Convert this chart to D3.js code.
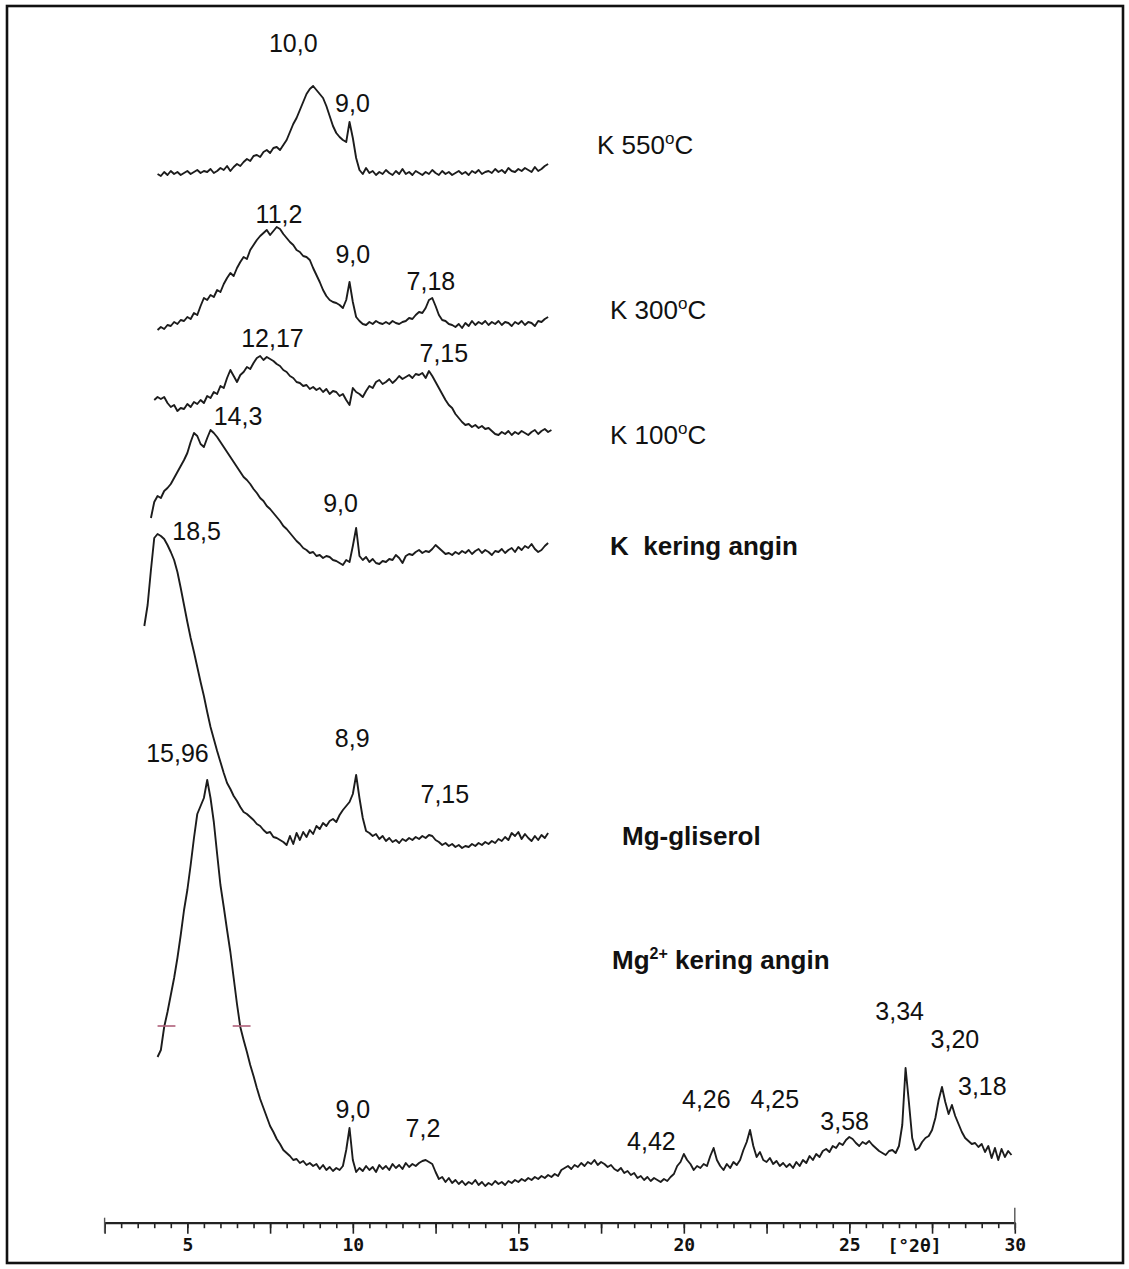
<!DOCTYPE html>
<html>
<head>
<meta charset="utf-8">
<script src="https://cdn.jsdelivr.net/npm/d3@7"></script>
<style>
  html, body { margin: 0; padding: 0; background: #ffffff; }
  svg { display: block; }
</style>
</head>
<body>
<svg id="chart" width="1129" height="1269"></svg>
<script>
// X-ray diffractograms of the clay fraction, stacked by treatment.
// Each scan is sampled every 0.1 °2θ starting at its own start angle.
const STEP = 0.1;

const traceNames  = ["K 550", "K 300", "K 100", "K kering angin", "Mg-gliserol", "Mg2+ kering angin"];
const traceStart  = [4.1, 4.1, 4.0, 3.9, 3.7, 4.1];
const traceOffset = [1042, 892, 784, 654, 372, 32];

// K-saturated, heated 550 °C
const k550 = [
  6,4,8,5,9,6,8,5,7,
  9,6,8,10,7,9,8,11,7,9,
  12,10,14,9,13,16,14,18,21,19,
  24,25,23,28,30,27,32,33,30,35,
  40,48,56,62,70,78,86,91,94,90,
  86,82,74,64,54,47,43,40,38,58,
  42,22,10,6,12,7,9,5,8,6,
  10,7,5,9,6,11,6,8,5,9,
  7,5,8,6,10,7,5,9,6,8,
  5,7,9,6,8,5,9,7,10,6,
  8,9,7,11,8,10,7,12,9,8,
  11,9,12,10,8,13,9,11,14,16
];

// K-saturated, heated 300 °C
const k300 = [
  0,3,1,5,4,8,6,10,9,
  13,11,17,15,24,32,30,35,33,40,
  38,46,52,57,54,62,68,73,71,80,
  85,90,94,97,100,95,99,103,101,96,
  92,88,85,80,78,74,73,70,62,55,
  48,40,34,30,28,27,25,22,30,48,
  28,13,9,6,5,8,6,9,7,6,
  8,6,9,7,6,8,9,12,11,15,
  18,17,22,30,32,24,15,10,9,6,
  5,3,6,2,7,4,9,5,8,6,
  9,5,8,6,9,5,8,7,4,8,
  6,9,5,8,7,4,9,8,11,13
];

// K-saturated, heated 100 °C
const k100 = [
  38,41,39,41,35,31,33,27,30,29,
  34,31,36,34,38,35,42,40,46,44,
  52,50,60,68,62,56,63,66,71,69,
  75,80,82,78,81,79,77,74,72,68,
  66,62,60,56,55,52,53,49,51,48,
  50,46,49,44,47,46,42,44,38,33,
  50,46,44,41,47,52,50,56,58,54,
  56,59,55,58,62,59,61,63,60,64,
  63,65,60,67,62,56,50,44,38,33,
  30,24,20,16,13,14,11,13,10,12,
  9,10,7,4,3,6,4,7,3,6,
  4,7,5,3,6,8,4,7,9,6,8
];

// K-saturated, air dried
const kAir = [
  50,
  66,72,70,77,80,84,90,96,102,108,
  115,126,135,132,124,121,130,138,135,131,
  126,121,116,111,106,101,96,91,88,84,
  79,75,70,67,62,59,55,51,47,42,
  39,35,31,27,24,20,18,15,16,12,
  13,10,12,11,8,7,5,3,8,6,
  22,40,12,8,11,6,9,5,4,7,
  6,9,8,13,10,5,12,14,13,16,
  18,15,17,16,19,23,20,17,14,15,
  13,16,14,17,15,18,14,17,19,15,
  18,16,13,17,16,19,15,18,20,16,
  21,18,22,20,24,19,16,18,22,25
];

// Mg-saturated, glycerol solvated
const mgGly = [
  224,245,280,312,316,314,311,305,298,290,
  278,262,245,228,212,198,183,168,154,138,
  123,111,99,88,77,67,61,54,49,43,
  38,36,33,30,26,24,20,17,18,13,
  12,10,8,5,14,6,17,10,18,13,
  20,16,24,21,27,24,29,31,28,35,
  40,44,48,56,75,52,32,19,17,14,
  16,11,14,9,12,8,10,7,11,9,
  12,10,13,11,14,12,15,14,10,8,
  5,7,4,6,3,5,2,4,3,6,
  4,7,5,8,6,9,7,11,9,13,
  10,17,14,18,11,16,12,9,14,10,
  15,12,17
];

// Mg-saturated, air dried (full 4–30 °2θ scan)
const mgAir = [
  133,140,163,178,195,212,232,255,280,300,
  325,352,376,384,392,410,392,368,336,305,
  283,260,238,212,186,163,150,138,125,114,
  102,91,82,73,64,58,51,46,40,37,
  34,30,31,27,29,25,27,24,26,21,
  25,20,23,19,22,20,24,40,62,30,
  18,22,19,24,20,23,18,25,21,24,
  20,26,22,25,21,27,23,26,24,27,
  29,30,28,26,18,11,13,8,12,7,
  10,6,9,5,8,6,10,5,8,4,
  7,5,9,6,8,5,9,7,10,8,
  11,9,12,10,13,11,14,12,15,13,
  16,14,20,22,24,21,25,23,27,24,
  28,26,30,25,28,26,23,25,21,19,
  22,17,19,15,17,12,14,10,13,9,
  12,10,8,11,9,13,16,24,28,36,
  30,26,20,24,22,26,24,34,42,30,
  24,20,26,22,28,25,30,40,48,60,
  44,33,38,30,28,32,26,29,24,27,
  23,26,22,28,24,30,27,34,30,36,
  33,39,41,38,44,42,47,45,50,53,
  51,47,44,48,46,49,45,42,39,37,
  35,39,40,37,44,65,122,88,52,40,
  42,48,52,54,60,72,90,103,88,76,
  85,74,66,58,52,49,46,47,43,46,
  38,44,32,42,30,41,33,39,35
];

const traces = [k550, k300, k100, kAir, mgGly, mgAir];

// Peak annotations (d-spacing in Å): trace index, °2θ of the label, height above the trace base
const peakText  = ["10,0", "9,0", "11,2", "9,0", "7,18", "12,17", "7,15", "14,3", "9,0", "18,5", "8,9", "7,15",
                   "15,96", "9,0", "7,2", "4,42", "4,26", "4,25", "3,58", "3,34", "3,20", "3,18"];
const peakTrace = [0, 0, 1, 1, 1, 2, 2, 3, 3, 4, 4, 4,
                   5, 5, 5, 5, 5, 5, 5, 5, 5, 5];
const peakAngle = [8.20, 9.99, 7.77, 10.0, 12.36, 7.57, 12.75, 6.53, 9.63, 5.28, 9.98, 12.78,
                   4.70, 10.0, 12.12, 19.02, 20.68, 22.75, 24.86, 26.52, 28.19, 29.02];
const peakLift  = [128, 68, 107, 67, 40, 91, 76, 143, 56, 310, 103, 47,
                   428, 72, 53, 40, 82, 82, 60, 170, 142, 95];

// Half-height markers drawn on the main Mg air-dried reflection
const fwhmAngle = [4.37, 6.64];
const fwhmLevel = 164;

// Axis ticks
const minorTicks = d3.range(2.5, 30.001, 0.5);
const majorTicks = d3.range(2.5, 30.001, 2.5);
const tickLabels = [5, 10, 15, 20, 25, 30];
const axisUnit = "[°2θ]";

const svg = d3.select("#chart");

const x = d3.scaleLinear().domain([2.5, 30]).range([104.6, 1014.8]);
const y = d3.scaleLinear().domain([0, 1200]).range([1222, 22]);

// outer frame
svg.append("rect")
  .attr("x", 7).attr("y", 6)
  .attr("width", 1116).attr("height", 1257)
  .attr("fill", "none")
  .attr("stroke", "#111")
  .attr("stroke-width", 2.6);

// diffractogram traces
const plot = svg.append("g");
traces.forEach((vals, t) => {
  const line = d3.line()
    .x((d, i) => x(traceStart[t] + i * STEP))
    .y(d => y(traceOffset[t] + d));
  plot.append("path")
    .datum(vals)
    .attr("d", line)
    .attr("fill", "none")
    .attr("stroke", "#1c1c1c")
    .attr("stroke-width", 1.9)
    .attr("stroke-linejoin", "round");
});

// half-height markers
plot.selectAll("line.fwhm")
  .data(fwhmAngle)
  .join("line")
  .attr("class", "fwhm")
  .attr("x1", d => x(d - 0.27))
  .attr("x2", d => x(d + 0.27))
  .attr("y1", y(traceOffset[5] + fwhmLevel))
  .attr("y2", y(traceOffset[5] + fwhmLevel))
  .attr("stroke", "#b0607a")
  .attr("stroke-width", 1.6);

// peak labels
svg.append("g")
  .selectAll("text")
  .data(peakText)
  .join("text")
  .attr("x", (d, i) => x(peakAngle[i]))
  .attr("y", (d, i) => y(traceOffset[peakTrace[i]] + peakLift[i]))
  .attr("text-anchor", "middle")
  .attr("font-family", "Liberation Sans, Arial, sans-serif")
  .attr("font-size", 25)
  .attr("fill", "#111")
  .text(d => d);

// treatment labels
const labelFont = "Liberation Sans, Arial, sans-serif";
const tl = svg.append("g")
  .attr("font-family", labelFont)
  .attr("font-size", 26)
  .attr("fill", "#111");

function degLabel(px, py, num) {
  const t = tl.append("text").attr("x", px).attr("y", py);
  t.append("tspan").text("K " + num);
  t.append("tspan").attr("font-size", 17).attr("dy", -10).text("o");
  t.append("tspan").attr("dy", 10).text("C");
}
degLabel(597, 154, "550");
degLabel(610, 319, "300");
degLabel(610, 444, "100");

tl.append("text").attr("x", 610).attr("y", 555)
  .attr("font-weight", "bold").attr("xml:space", "preserve")
  .style("white-space", "pre")
  .text("K  kering angin");

tl.append("text").attr("x", 622).attr("y", 845)
  .attr("font-weight", "bold")
  .text("Mg-gliserol");

const mgLab = tl.append("text").attr("x", 612).attr("y", 969).attr("font-weight", "bold");
mgLab.append("tspan").text("Mg");
mgLab.append("tspan").attr("font-size", 16).attr("dy", -10).text("2+");
mgLab.append("tspan").attr("dy", 10).text(" kering angin");

// 2θ axis
const axisY = 1222.7;
const ax = svg.append("g").attr("transform", `translate(0,${axisY})`);

ax.append("g")
  .call(d3.axisBottom(x).tickValues(minorTicks).tickSize(5.5).tickSizeOuter(0).tickFormat(""))
  .call(g => g.select(".domain").attr("stroke", "#222").attr("stroke-width", 2.2))
  .call(g => g.selectAll(".tick line").attr("stroke", "#222").attr("stroke-width", 1.6));

ax.append("g")
  .call(d3.axisBottom(x).tickValues(majorTicks).tickSize(11).tickSizeOuter(0).tickFormat(""))
  .call(g => g.select(".domain").remove())
  .call(g => g.selectAll(".tick line").attr("stroke", "#222").attr("stroke-width", 1.6));

ax.append("g")
  .call(d3.axisBottom(x).tickValues(tickLabels).tickSize(0).tickPadding(16).tickFormat(d3.format("d")))
  .call(g => g.select(".domain").remove())
  .call(g => g.selectAll(".tick text")
    .attr("font-family", "DejaVu Sans Mono, Liberation Mono, monospace")
    .attr("font-weight", "bold")
    .attr("font-size", 18)
    .attr("fill", "#111"));

// end markers of the scan range
ax.append("line")
  .attr("x1", x(2.5)).attr("x2", x(2.5))
  .attr("y1", -5).attr("y2", 10)
  .attr("stroke", "#555").attr("stroke-width", 1.4);
ax.append("line")
  .attr("x1", x(30)).attr("x2", x(30))
  .attr("y1", -15).attr("y2", 7)
  .attr("stroke", "#555").attr("stroke-width", 1.4);

ax.append("text")
  .attr("x", x(26.97))
  .attr("y", 29)
  .attr("text-anchor", "middle")
  .attr("font-family", "DejaVu Sans Mono, Liberation Mono, monospace")
  .attr("font-weight", "bold")
  .attr("font-size", 18)
  .attr("fill", "#111")
  .style("white-space", "pre")
  .text(axisUnit);
</script>
</body>
</html>
